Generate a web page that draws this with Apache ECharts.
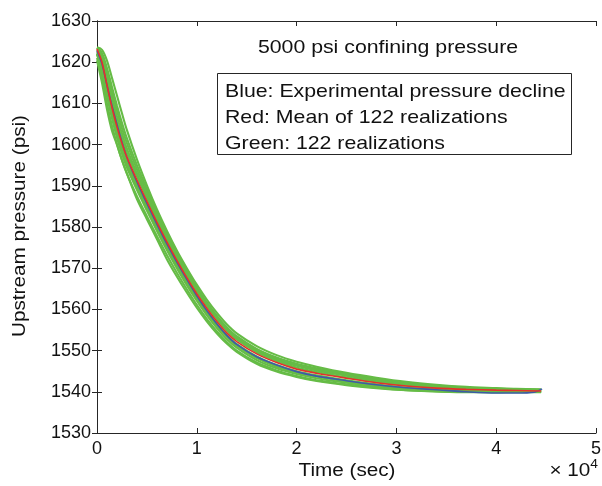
<!DOCTYPE html>
<html>
<head>
<meta charset="utf-8">
<script src="https://cdn.jsdelivr.net/npm/echarts@6/dist/echarts.min.js"></script>
<style>html,body{margin:0;padding:0;background:#fff;}#chart{width:602px;height:486px;}</style>
</head>
<body>
<div id="chart"></div>
<script>
// Time (sec)
var times = [0,500,1000,1500,2000,2500,3000,4000,5000,6000,7000,8000,9000,10000,11000,12000,13000,14000,16000,18000,20000,22000,25000,28000,31000,34000,37000,40000,42000,44500];
// Red: mean of realizations
var meanRed = [1623.2,1620.0,1614.4,1609.0,1604.3,1600.3,1596.9,1591.4,1586.2,1581.2,1576.4,1571.9,1567.7,1563.8,1560.3,1557.1,1554.3,1552.2,1549.2,1547.1,1545.5,1544.5,1543.3,1542.2,1541.4,1540.9,1540.6,1540.4,1540.3,1540.2];
// Blue: experimental
var blueTimes = [0,500,1000,1500,2000,2500,3000,4000,5000,6000,7000,8000,9000,10000,11000,12000,13000,14000,16000,18000,20000,22000,25000,28000,31000,34000,37000,40000,42000,43800,44600];
var expBlue = [1622.8,1619.6,1614.4,1609.4,1604.9,1600.6,1596.9,1591.0,1585.7,1580.7,1575.9,1571.5,1567.3,1563.3,1559.7,1556.5,1553.7,1551.5,1548.5,1546.5,1544.9,1543.8,1542.7,1541.7,1541.0,1540.5,1540.0,1539.7,1539.7,1539.9,1540.7];
// Green: realizations (sampled)
var g1 = [1623.6,1623.0,1620.4,1616.2,1611.9,1607.6,1603.5,1596.4,1590.1,1584.3,1579.1,1574.3,1570.0,1566.0,1562.4,1559.2,1556.4,1554.2,1551.1,1548.9,1547.3,1546.1,1544.6,1543.4,1542.4,1541.7,1541.2,1540.9,1540.7,1540.6];
var g2 = [1623.4,1622.2,1618.6,1614.0,1609.5,1605.3,1601.5,1595.0,1589.2,1583.7,1578.6,1573.8,1569.4,1565.3,1561.7,1558.5,1555.7,1553.5,1550.4,1548.3,1546.8,1545.7,1544.3,1543.1,1542.1,1541.5,1541.0,1540.7,1540.6,1540.5];
var g3 = [1623.0,1621.2,1616.6,1611.5,1606.8,1602.7,1599.0,1593.0,1587.6,1582.4,1577.5,1573.0,1568.7,1564.8,1561.2,1558.0,1555.2,1553.0,1549.9,1547.8,1546.3,1545.2,1543.9,1542.7,1541.8,1541.2,1540.8,1540.6,1540.5,1540.4];
var g4 = [1622.6,1620.4,1615.4,1610.1,1605.5,1601.5,1598.0,1592.3,1587.0,1581.9,1577.0,1572.5,1568.3,1564.4,1560.9,1557.7,1554.9,1552.7,1549.6,1547.5,1545.9,1544.8,1543.5,1542.4,1541.5,1541.0,1540.6,1540.4,1540.3,1540.2];
var g5 = [1622.2,1619.0,1613.4,1608.0,1603.3,1599.3,1595.9,1590.4,1585.3,1580.4,1575.7,1571.2,1567.1,1563.2,1559.7,1556.5,1553.8,1551.6,1548.6,1546.5,1545.0,1544.0,1542.8,1541.8,1541.0,1540.6,1540.3,1540.2,1540.1,1540.1];
var g6 = [1621.8,1617.8,1611.8,1606.4,1601.7,1597.8,1594.4,1589.0,1584.0,1579.1,1574.4,1570.0,1565.9,1562.1,1558.6,1555.5,1552.8,1550.7,1547.7,1545.7,1544.3,1543.3,1542.2,1541.3,1540.6,1540.3,1540.1,1540.0,1540.0,1540.0];
var g7 = [1621.0,1616.4,1610.0,1604.6,1600.1,1596.2,1592.9,1587.5,1582.6,1577.8,1573.2,1568.9,1564.9,1561.1,1557.7,1554.7,1552.1,1550.0,1547.1,1545.2,1543.8,1542.8,1541.8,1541.0,1540.4,1540.1,1539.9,1539.9,1539.9,1539.9];
var g8 = [1620.4,1615.0,1608.6,1603.4,1600.0,1596.3,1593.0,1586.8,1581.9,1577.1,1572.2,1568.0,1564.1,1560.4,1557.1,1554.2,1551.7,1549.7,1546.8,1544.9,1543.6,1542.6,1541.6,1540.9,1540.4,1540.1,1540.0,1539.9,1540.0,1540.0];
var g9 = [1623.5,1621.8,1617.6,1612.8,1608.2,1604.0,1600.3,1594.0,1588.4,1583.1,1578.1,1573.4,1569.1,1565.1,1561.5,1558.3,1555.5,1553.3,1550.2,1548.1,1546.6,1545.5,1544.1,1542.9,1542.0,1541.4,1540.9,1540.6,1540.5,1540.4];
var g10 = [1622.0,1618.4,1612.6,1607.2,1602.5,1598.5,1595.1,1589.6,1584.6,1579.7,1575.0,1570.6,1566.5,1562.7,1559.2,1556.1,1553.4,1551.2,1548.2,1546.1,1544.7,1543.7,1542.5,1541.6,1540.9,1540.5,1540.3,1540.2,1540.1,1540.1];
var greens = [g1,g2,g9,g3,g4,g5,g10,g6,g7,g8];

var xTicks = [0,10000,20000,30000,40000,50000];
var yMin = 1530, yMax = 1630, yStep = 10;

var FONT = '"Liberation Sans", Arial, Helvetica, sans-serif';
var AX = '#262626';
var TXT = '#111';
var SX = 1.15;

function pairs(t, v){ return t.map(function(x,i){ return [x, v[i]]; }); }

var series = [];
greens.forEach(function(g, k){
  series.push({type:'line', name:'g'+k, data:pairs(times,g), showSymbol:false, smooth:0.3,
    lineStyle:{color:'#66bc46', width:2.1}, z:2, silent:true, animation:false});
});
series.push({type:'line', name:'blue', data:pairs(blueTimes,expBlue), showSymbol:false, smooth:0.3,
  lineStyle:{color:'#3d5aa8', width:1.6}, z:3, animation:false});
series.push({type:'line', name:'red', data:pairs(times,meanRed), showSymbol:false, smooth:0.3,
  lineStyle:{color:'#e4312b', width:1.6}, z:4, animation:false});

var chart = echarts.init(document.getElementById('chart'), null, {renderer:'canvas'});
function axisCommon(){
  return {
    axisLine:{show:true, lineStyle:{color:AX, width:1}},
    axisTick:{show:true, inside:true, length:5, lineStyle:{color:AX, width:1}},
    splitLine:{show:false}
  };
}
function txt(text, x, y, size, align, rot){
  return {type:'text', x:x, y:y, rotation:rot||0, scaleX:SX, z:11,
    style:{text:text, fill:TXT, font:size+'px '+FONT, textAlign:align, textVerticalAlign:'middle'}};
}
chart.setOption({
  animation:false,
  backgroundColor:'#fff',
  grid:{left:97, right:6, top:21, bottom:53, containLabel:false, outerBoundsMode:'none'},
  xAxis:[
    Object.assign({type:'value', min:xTicks[0], max:xTicks[xTicks.length-1], interval:10000, position:'bottom',
      axisLabel:{color:TXT, fontFamily:FONT, fontSize:18, margin:7, formatter:function(v){return String(v/10000);}}}, axisCommon()),
    Object.assign({type:'value', min:xTicks[0], max:xTicks[xTicks.length-1], interval:10000, position:'top',
      axisLabel:{show:false}}, axisCommon())
  ],
  yAxis:[
    Object.assign({type:'value', min:yMin, max:yMax, interval:yStep, position:'left',
      axisLabel:{color:TXT, fontFamily:FONT, fontSize:18, margin:6, formatter:function(v){return String(v);}}}, axisCommon()),
    Object.assign({type:'value', min:yMin, max:yMax, interval:yStep, position:'right',
      axisLabel:{show:false}}, axisCommon())
  ],
  series:series,
  graphic:[
    txt('Time (sec)', 347, 471, 18, 'center'),
    txt('Upstream pressure (psi)', 20, 226, 18, 'center', Math.PI/2),
    {type:'text', x:598, y:471, scaleX:SX, originX:0, z:11,
      style:{text:'{a|\u00d7 10}{b|4}', textAlign:'right', textVerticalAlign:'middle',
        rich:{a:{fontSize:18, fontFamily:FONT, fill:TXT, color:TXT}, b:{fontSize:12, fontFamily:FONT, fill:TXT, color:TXT, verticalAlign:'top', padding:[0,0,12,0]}}}},
    txt('5000 psi confining pressure', 388, 48, 18.5, 'center'),
    {type:'rect', shape:{x:217.5, y:73.5, width:354, height:81}, style:{fill:'#fff', stroke:AX, lineWidth:1}, z:10},
    txt('Blue: Experimental pressure decline', 225, 92, 18.5, 'left'),
    txt('Red: Mean of 122 realizations', 225, 118, 18.5, 'left'),
    txt('Green: 122 realizations', 225, 144, 18.5, 'left')
  ]
});
</script>
</body>
</html>
